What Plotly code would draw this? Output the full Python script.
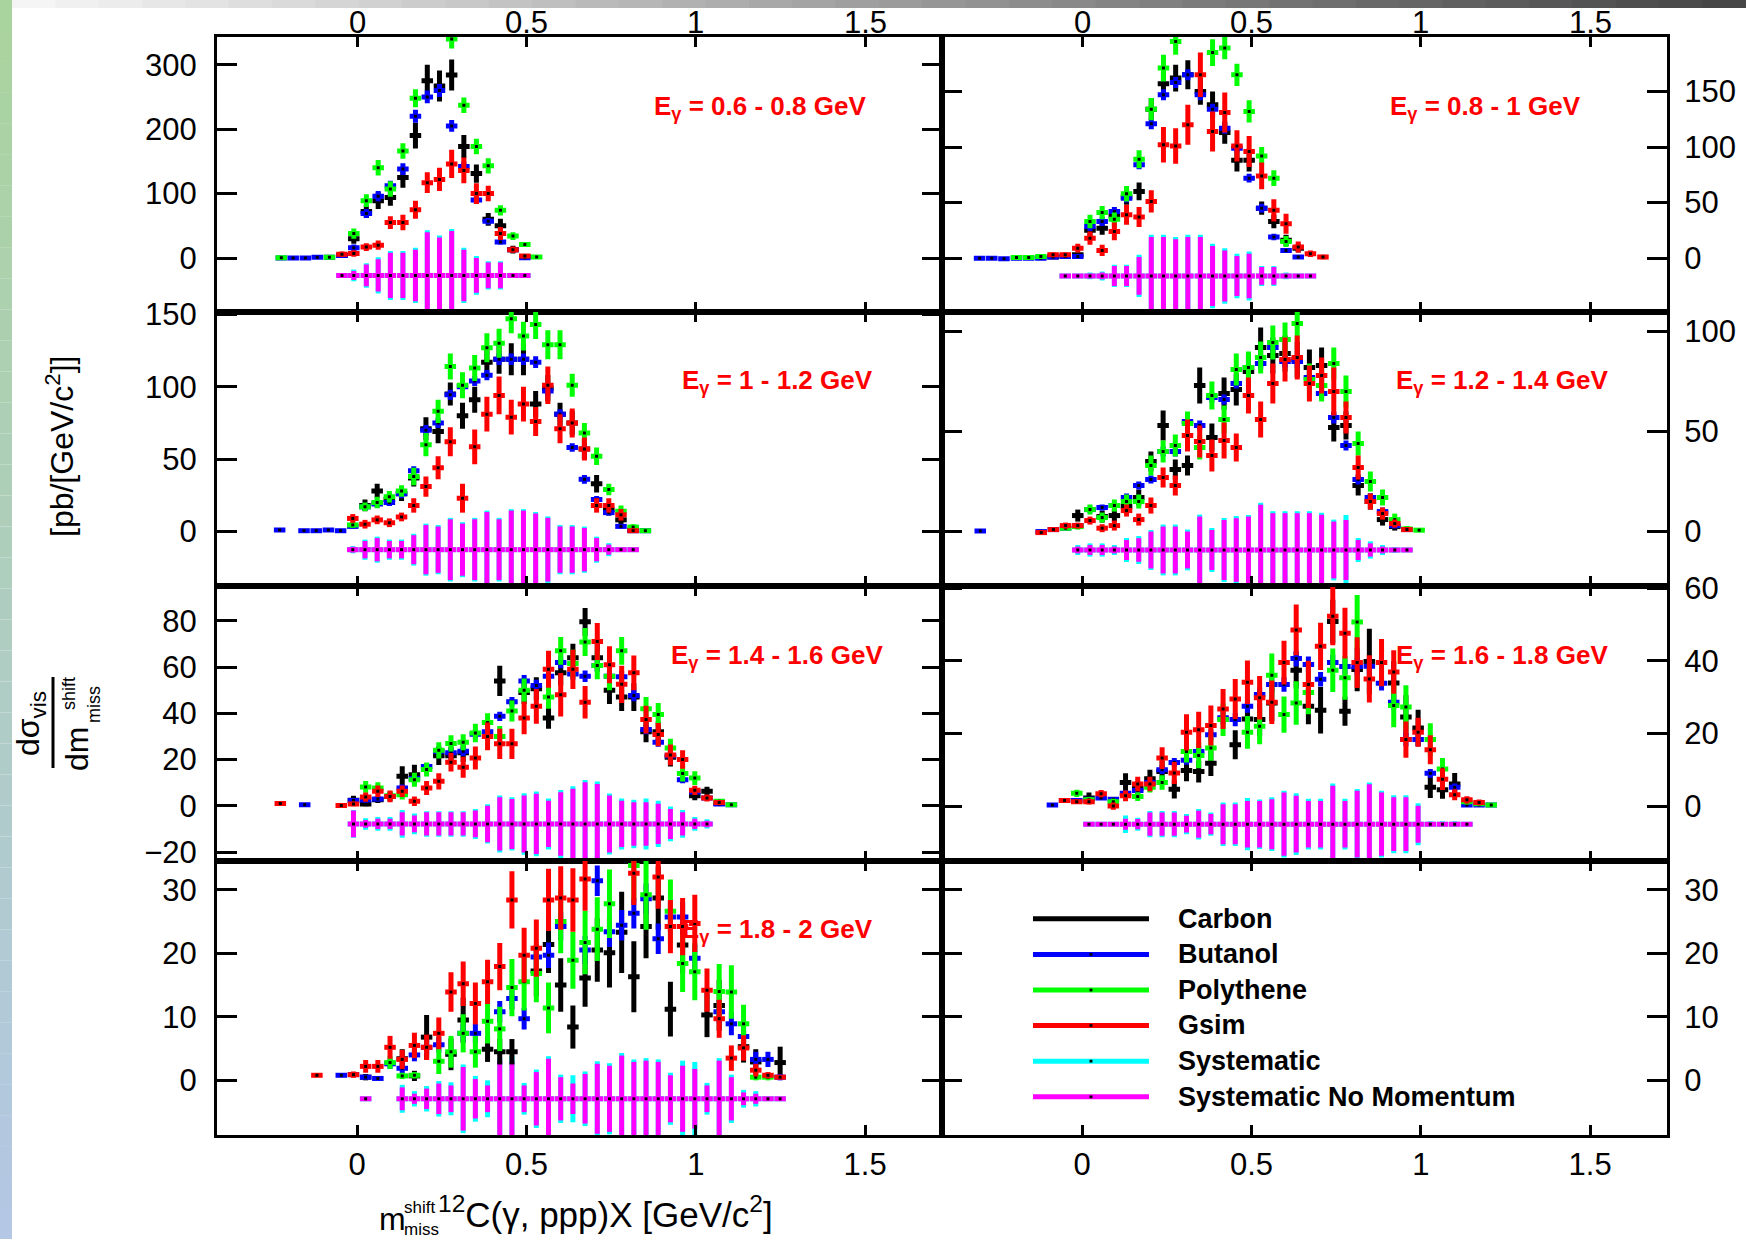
import sys
import plotly.graph_objects as go
from plotly.subplots import make_subplots

# ---------------------------------------------------------------- data
BIN_HALF = 0.017
N = None

# Panel 1 : E_gamma = 0.6 - 0.8 GeV
P1_X = [-0.224, -0.189, -0.153, -0.118, -0.082, -0.045, -0.010, 0.027, 0.062, 0.098, 0.135,
        0.172, 0.207, 0.243, 0.279, 0.315, 0.352, 0.387, 0.423, 0.460, 0.495, 0.530]
P1_CARBON = [N, N, N, N, N, 4, 30, 72, 89, 94, 125, 190, 275, 267, 284, 173, 131, 60, 50, 13, 2, N]
P1_CARBON_ERR = [N, N, N, N, N, 3, 8, 10, 13, 13, 16, 20, 25, 24, 24, 18, 14, 10, 11, 6, 3, N]
P1_BUTANOL = [0, 0, 0, 1, 1, 4, 16, 69, 96, 112, 138, 220, 250, 260, 205, 142, 90, 57, 25, 13, 0.5, N]
P1_BUTANOL_ERR = [2, 2, 2, 2, 2, 3, 5, 7, 8, 8, 9, 10, 10, 10, 9, 8, 6, 5, 4, 3, 2, N]
P1_POLY = [0.5, N, N, N, 1, N, 38, 89, 140, 107, 166, 248, N, N, 340, 237, 173, 143, 74, 34, 21, 1.5]
P1_POLY_ERR = [2, N, N, N, 2, N, 8, 10, 12, 12, 12, 14, N, N, 15, 12, 12, 12, 8, 6, 4, 2]
P1_GSIM = [N, N, N, N, N, 6, 7, 17, 20, 55, 55, 75, 117, 122, 146, 136, 100, 100, 38, 13, 3, N]
P1_GSIM_ERR = [N, N, N, N, N, 4, 5, 6, 7, 10, 12, 14, 16, 18, 22, 20, 16, 12, 10, 5, 3, N]
P1_SYS_CENTER = -27
P1_SNM = [N, N, N, N, N, 0, 7, 17, 25, 35, 35, 40, 67, 59, 69, 40, 27, 20, 20, 0, 0, N]
P1_SYS = [N, N, N, N, N, 0, 9, 19, 28, 38, 38, 43, 70, 62, 72, 43, 30, 22, 22, 0, 0, N]

# Panel 2 : E_gamma = 0.8 - 1 GeV
P2_X = [-0.303, -0.267, -0.231, -0.194, -0.158, -0.122, -0.086, -0.050, -0.013, 0.023, 0.059,
        0.095, 0.131, 0.168, 0.204, 0.240, 0.276, 0.312, 0.349, 0.385, 0.421, 0.457, 0.493,
        0.530, 0.566, 0.602, 0.638, 0.674, 0.711]
P2_CARBON = [N, N, N, N, N, N, 1, 2, 3, 25, 27, 38, 55, 60, 134, 157, 162, 165, 150, 138, 113,
             88, 88, 45, 33, 16, 9, N, N]
P2_CARBON_ERR = [N, N, N, N, N, N, 1.5, 2, 2, 6, 6, 6, 7, 8, 10, 11, 12, 13, 12, 12, 10, 10, 10,
                 6, 6, 5, 4, N, N]
P2_BUTANOL = [0, 0, -0.5, 0, 0, 0, 1, 1.5, 1.5, 28.5, 33, 42, 54, 84, 121, 147, 158, 165, 147,
              134, 117, 99, 72, 45, 19, 7, 1, N, N]
P2_BUTANOL_ERR = [1, 1, 1, 1, 1, 1, 1, 1, 1.5, 4, 4, 4, 4, 4, 5, 5, 5, 5, 5, 5, 5, 4, 4, 4, 3,
                  2, 1.5, N, N]
P2_POLY = [N, N, N, 0.5, 0.5, 1.5, N, N, N, 33, 41, 35, 58, 89, 134, 171, 195, N, N, 185, 189,
           165, 132, 92, 72, 15, N, N, N]
P2_POLY_ERR = [N, N, N, 1, 1, 1.5, N, N, N, 6, 6, 6, 7, 8, 10, 12, 12, N, N, 12, 10, 10, 10, 8,
               7, 5, N, N, N]
P2_GSIM = [N, N, N, N, N, N, 3, 3, 9, 18, 7, 24, 39, 37, 51, 102, 101, 120, 165, 114, 131, 101,
           96, 74, 43, 31, 10, 4, 1]
P2_GSIM_ERR = [N, N, N, N, N, N, 2, 2, 4, 6, 5, 8, 9, 9, 10, 16, 16, 18, 20, 18, 18, 14, 14, 12,
               10, 9, 5, 3, 2]
P2_SYS_CENTER = -16
P2_SNM = [N, N, N, N, N, N, N, 0, 0, 2, 3, 9, 9, 17, 35, 35, 33, 35, 35, 27, 23, 18, 20, 8, 8,
          2, 0, 0, N]
P2_SYS = [N, N, N, N, N, N, N, 0, 0, 3, 4, 10, 10, 19, 37, 37, 35, 37, 37, 29, 25, 20, 22, 9, 9,
          3, 0, 0, N]

# Panel 3 : E_gamma = 1 - 1.2 GeV
P3_X = [-0.229, -0.193, -0.157, -0.121, -0.085, -0.049, -0.013, 0.023, 0.059, 0.095, 0.131,
        0.167, 0.203, 0.239, 0.275, 0.311, 0.347, 0.383, 0.419, 0.455, 0.491, 0.527, 0.563,
        0.599, 0.635, 0.671, 0.707, 0.743, 0.779, 0.815, 0.851]
P3_CARBON = [N, N, N, N, N, N, N, 18, 28, 22, 26, 37, 71, 69, 95, 80, 91, 117, 119, 119, 119,
             88, 99, 81, 75, 57, 33, 15, 8, 1, N]
P3_CARBON_ERR = [N, N, N, N, N, N, N, 4, 5, 4, 5, 6, 8, 8, 8, 9, 9, 10, 10, 11, 11, 9, 9, 8, 8,
                 7, 6, 4, 3, 1.5, N]
P3_BUTANOL = [1, N, 0.5, 0.5, 1, 0.5, 3.5, 17, 19, 20, 26, 42, 70, 75, 94.5, 100, 104, 108, 119,
              119, 119, 117, 97, 81, 58, 36, 22, 13, 3.5, 0.5, 0.5]
P3_BUTANOL_ERR = [1, N, 1, 1, 1, 1, 1.5, 2.5, 2.5, 2.5, 3, 3, 3.5, 3.5, 3.5, 3.5, 3.5, 3.5, 4, 4,
                  4, 4, 3.5, 3.5, 3, 3, 2.5, 2, 1.5, 1, 1]
P3_POLY = [N, N, N, N, N, N, 4.5, 17, 20, 24, 28, 38, 60, 83, 114, 101, 113, 127, 130, 147, 135,
           143, 129, 129, 101, 68, 52, 29, 14, 3, 0.5]
P3_POLY_ERR = [N, N, N, N, N, N, 2, 3, 4, 4, 4, 6, 8, 8, 9, 9, 9, 10, 10, 10, 10, 10, 10, 10, 8,
               7, 6, 4, 4, 2, 1]
P3_GSIM = [N, N, N, N, N, N, 9, 5, 8, 6, 10, 18, 31, 44, 62, 23, 58.5, 81, 94, 79, 88, 76, 101,
           71, 75, 57, 18, 18, 11.5, 0.5, N]
P3_GSIM_ERR = [N, N, N, N, N, N, 3, 3, 3, 3, 3, 5, 7, 8, 10, 10, 12, 12, 13, 12, 12, 10, 13, 10,
               10, 8, 5, 5, 4, 1, N]
P3_SYS_CENTER = -12.6
P3_SNM = [N, N, N, N, N, N, 2, 6, 8, 6, 6, 10, 17, 16, 21, 18, 21, 26, 21, 27, 27, 25, 22, 16, 16,
          15, 8, 3.5, 1, 1, N]
P3_SYS = [N, N, N, N, N, N, 2.5, 7, 9, 7, 7, 11, 18, 17, 22, 19, 22, 27, 22, 28, 28, 26, 23, 17,
          17, 16, 9, 4.5, 1.5, 1.5, N]

# Panel 4 : E_gamma = 1.2 - 1.4 GeV
P4_X = [-0.301, -0.265, -0.229, -0.193, -0.157, -0.121, -0.085, -0.049, -0.013, 0.023, 0.059,
        0.095, 0.131, 0.167, 0.203, 0.239, 0.275, 0.311, 0.347, 0.383, 0.419, 0.455, 0.491,
        0.527, 0.563, 0.599, 0.635, 0.671, 0.707, 0.743, 0.779, 0.815, 0.851, 0.887, 0.923,
        0.959, 0.995]
P4_CARBON = [N, N, N, N, N, N, N, N, 8, N, 7.5, 8, 12.5, 17, 35, 53, 31, 33, 73, 47, 69, 71, 80,
             92, 88, 89, 86, 82, 83, 52, 53, 23, 15, 6, 2.5, N, N]
P4_CARBON_ERR = [N, N, N, N, N, N, N, N, 3, N, 3, 3, 3.5, 4, 5, 7.5, 5, 5, 9, 7, 8, 8, 9, 10, 9,
                 9, 9, 9, 9, 7, 7, 5, 4, 3, 2, N, N]
P4_BUTANOL = [0.3, N, N, N, N, 0, 1, 1.7, 3, 11, 12, 13, 17, 23, 26, 40, 40, 55, 53, 67, 66, 74,
              82, 84, 92, 85, 85, 77, 69, 57, 43, 26, 17, 10, 3, 1, N]
P4_BUTANOL_ERR = [1, N, N, N, N, 1, 1, 1, 1, 1.5, 1.5, 1.5, 2, 2, 2, 2.5, 2.5, 2.5, 2.5, 2.5,
                  2.5, 2.5, 2.5, 3, 3, 3, 3, 3, 3, 3, 2.5, 2.5, 2, 2, 1.5, 1, N]
P4_POLY = [N, N, N, N, N, N, N, 1.7, 2.5, 11, 7, 13, 15, 15, 33, 40, 43, 54, 42, 68, 56, 81, 82,
           87, 94.5, 96, 104, 76, 73, 84, 70, 44, 25, 17, 6, 1.3, 0.7]
P4_POLY_ERR = [N, N, N, N, N, N, N, 1, 1.5, 2.5, 2.5, 3, 3.5, 3.5, 5, 5.5, 5.5, 6, 6, 7, 7, 8, 8,
               8, 8.5, 8.5, 8.5, 8, 8, 8, 8, 6, 5, 4, 3, 1.5, 1]
P4_GSIM = [N, N, N, N, N, -0.5, 1, 3, 3, 5.5, 1.7, 3, 10.5, 6, 13, 27, 23, 48, 45, 38, 45.5, 42,
           68, 56, 74, 86, 87, 74, 78, 70, 57, 32, 15, 9, 4, 1, N]
P4_GSIM_ERR = [N, N, N, N, N, 1, 1, 1.5, 1.5, 2, 2, 2.5, 3, 3, 4, 5, 5, 8, 8, 8, 9, 7, 9, 9, 10,
               11, 11, 9, 9, 12, 8, 6, 4, 3, 2, 1, N]
P4_SYS_CENTER = -9.2
P4_SNM = [N, N, N, N, N, N, N, N, 1.7, 2.5, 2.5, 1.7, 5, 5.9, 9.2, 11.7, 11.7, 9.2, 16.7, 10, 15,
          15.9, 16.7, 22.6, 18.4, 18.4, 18.4, 18.4, 17.6, 14.2, 15, 5, 3.3, 1.7, 0.8, 0.5, N]
P4_SYS = [N, N, N, N, N, N, N, N, 2.5, 3.3, 3.3, 2.5, 6, 7, 10, 12.7, 12.7, 10.2, 17.7, 11, 16,
          17, 17.5, 23.6, 19.4, 19.4, 19.4, 19.4, 18.6, 15.2, 17.5, 6, 4.3, 2.5, 1.5, 1, N]

# Panel 5 : E_gamma = 1.4 - 1.6 GeV
P5_X = [-0.227, -0.191, -0.155, -0.119, -0.083, -0.047, -0.011, 0.025, 0.061, 0.097, 0.133,
        0.169, 0.205, 0.241, 0.277, 0.313, 0.349, 0.385, 0.421, 0.457, 0.493, 0.529, 0.565,
        0.601, 0.637, 0.673, 0.709, 0.745, 0.781, 0.817, 0.853, 0.889, 0.925, 0.961, 0.997,
        1.033, 1.069, 1.105]
P5_CARBON = [N, N, N, N, N, N, 2.4, 0.8, 2.7, 4, 12.8, 13.5, N, 21.7, 21.7, 23, N, N, 54, N, 49,
             50.6, 38, 57.5, 64, 79.5, 64, 50, 47, 47, 32, 32, 21, N, 4.4, 6.3, 1, N]
P5_CARBON_ERR = [N, N, N, N, N, N, 2, 1, 1.5, 2, 4.3, 4.3, N, 4, 4, 4, N, N, 6.5, N, 5, 5, 4.7,
                 5.5, 6, 6, 6, 6, 6, 6, 4.5, 4.5, 4, N, 2, 2, 1, N]
P5_BUTANOL = [N, N, 0.5, N, N, N, 2.3, 2.5, 3, 4, 7.7, 11.8, 17, 23.6, 23, 23.6, 31, 32, 38.7,
              45, 54, 52, 56, 62, 57, 56, 60.7, 56, 55.8, 47.7, 33, 27.5, 21.7, 11.3, 6, 3.4,
              0.8, 0.5]
P5_BUTANOL_ERR = [N, N, 0.5, N, N, N, 1, 1, 1, 1, 1.5, 1.5, 1.5, 2, 2, 2, 2, 2, 2, 2, 2.5, 2.5,
                  2.5, 2.5, 2.5, 2.5, 2.5, 2.5, 2.5, 2.5, 2, 2, 2, 1.5, 1, 1, 0.5, 0.5]
P5_POLY = [N, N, N, N, N, N, N, 8.2, 7.7, 4.4, 4.8, 11.3, 15.7, 24, 27, 27.5, 31.5, 36, 30, 41,
           50, N, 47, 67, 61.5, 70.8, 60.7, 56, 67, N, 42, 39.5, 25, 14, 12, N, 2, 0.5]
P5_POLY_ERR = [N, N, N, N, N, N, N, 2.5, 2.5, 2, 2, 3, 3, 3.5, 3.5, 3.5, 4, 4, 4.5, 4.5, 5, N, 5,
               6, 6, 6, 6, 6, 6, N, 5, 5, 4, 3.5, 3, N, 1, 0.5]
P5_GSIM = [1, N, N, N, N, 0.2, 0.8, 3.8, 6.3, 4.1, 6.3, 2, 7.7, 10.6, 18.8, 16.7, 20.7, 30,
           26.8, 26.8, 38, 43, 59, 48, 59, 44.8, 71, 61, 52.5, 57.5, 37.3, 30.8, 22, 20, 6.7,
           3.4, 1.5, N]
P5_GSIM_ERR = [0.5, N, N, N, N, 0.5, 1, 2, 2.5, 2.5, 2.5, 2, 3, 3.5, 4, 4.5, 5, 6, 6.5, 6.5, 7,
               7.5, 8, 9.4, 8.5, 7, 8, 8, 8, 7.5, 6, 5, 4.5, 4, 2, 1.5, 1, N]
P5_SYS_CENTER = -7.8
P5_SNM = [N, N, N, N, N, N, 5.8, 1.7, 2.2, 2.2, 5, 3.6, 5, 5, 5, 5, 5.8, 7.9, 11.5, 10.8, 12.3,
          13, 10, 13.7, 15.2, 18, 17.3, 12.3, 10, 9.4, 9.4, 8.7, 6.5, 5, 2.2, 1.4, N, N]
P5_SYS = [N, N, N, N, N, N, 6, 2.5, 3, 3, 6, 4.5, 5.5, 5.5, 5.5, 5.5, 6.5, 8.5, 12.3, 11.5, 13.3,
          14, 11, 14.7, 16.3, 19, 18.3, 13.2, 11, 10.5, 11, 10, 7.5, 6, 3, 2, N, N]

# Panel 6 : E_gamma = 1.6 - 1.8 GeV
P6_X = [-0.088, -0.052, -0.016, 0.020, 0.056, 0.092, 0.128, 0.164, 0.200, 0.236, 0.272, 0.308,
        0.344, 0.380, 0.416, 0.452, 0.488, 0.524, 0.560, 0.596, 0.632, 0.668, 0.704, 0.740,
        0.776, 0.812, 0.848, 0.884, 0.920, 0.956, 0.992, 1.028, 1.064, 1.100, 1.136, 1.172,
        1.208]
P6_CARBON = [N, N, N, 2.2, N, N, 6.5, 4.9, 7.5, 9.5, 4.6, 9.8, 9.5, 11.8, N, 16.9, 24, 23.8,
             28.4, N, 37.4, 27.5, 26.4, 50.8, 26.1, 37.6, 39.8, N, 33.9, 24.5, 21.5, 5.2, 4.5,
             6.1, N, N, N]
P6_CARBON_ERR = [N, N, N, 1.5, N, N, 2.5, 2, 2.5, 3, 2.5, 3, 3, 3.5, N, 4, 4.5, 4.5, 5, N, 5, 5,
                 6.4, 6, 4, 6, 9, N, 6, 6, 5, 3, 2.5, 3, N, N, N]
P6_BUTANOL = [0.3, 1.5, 1.5, 1.9, 2.2, 1.9, 3.5, 4.3, 6.5, 10, 12, 12.6, 15, 19.6, 24.3, 23.8,
              27.5, 30.7, 33.5, 33.5, 40.6, 39, 34.9, 39.5, 38.4, 38.4, 38.5, 33.8, 28.6, 18.3,
              18.3, 9, N, 5.2, 0.3, 0.3, 0.3]
P6_BUTANOL_ERR = [0.3, 0.5, 0.5, 0.5, 0.5, 0.5, 0.8, 0.8, 1, 1.2, 1.2, 1.2, 1.5, 1.5, 1.8, 1.8,
                  1.8, 2, 2, 2, 2.2, 2.2, 2, 2.2, 2.2, 2.2, 2.2, 2, 2, 1.8, 1.8, 1.2, N, 1, 0.3,
                  0.3, 0.3]
P6_POLY = [N, N, 3.5, 1.7, N, 1.2, N, 2.6, 5.2, 6.5, N, 15, 13.9, 16, 23.8, N, 20.3, 22, 36, 25.2,
           28.4, 31.3, N, 37.4, 35.3, 50.7, N, N, 27.7, 27.3, N, 18.3, 10.2, N, 1.2, 0.6, 0.3]
P6_POLY_ERR = [N, N, 1, 0.8, N, 0.8, N, 1.2, 1.5, 2, N, 3, 3.5, 3.5, 4.5, N, 4.5, 5, 6, 5, 6, 6,
               N, 6, 6, 7.4, N, N, 6, 6, N, 4.5, 3, N, 0.8, 0.5, 0.3]
P6_GSIM = [N, 1.5, 1.2, 1.2, 3.4, 0, 2.8, 6.1, 6.1, 13.2, 9.1, 20.3, 21, 22.2, 26.7, 29.5, 34.1,
           29.8, 28.6, 39.5, 48.5, 33.5, 44, 52.3, 47.6, 39.5, 35, 39.5, 36.9, 18.3, 20.3, 15.5,
           7.4, 3.1, 1.7, 1, N]
P6_GSIM_ERR = [N, 0.5, 0.5, 0.8, 1, 1, 1.5, 2, 2, 3, 3, 5, 5, 5.5, 5.5, 5.5, 6, 6, 6, 6, 7, 6.5,
               6.5, 8, 7, 7, 6.5, 6.5, 6, 5, 4, 4, 3, 1.5, 1, 0.8, N]
P6_SYS_CENTER = -5
P6_SNM = [N, N, N, 0, 0, 0, 1.5, 1.4, 3.2, 3.2, 3.2, 2.3, 3.7, 2.8, 5.5, 5.5, 6.4, 6.4, 6.9, 8.7,
          7.8, 6.4, 6.4, 10.6, 6.4, 9.2, 11, 8.7, 7.4, 7.4, 5.1, 0.5, 0.5, 0.5, 0, N, N]
P6_SYS = [N, N, N, 0, 0, 0, 2.4, 1.8, 3.6, 3.6, 3.6, 2.8, 4.2, 3.2, 6, 6, 7.2, 6.8, 7.4, 9.2, 8.5,
          7, 7, 11.2, 7, 9.7, 11.5, 9.2, 8, 8, 5.8, 0.8, 0.8, 0.8, 0, N, N]

# Panel 7 : E_gamma = 1.8 - 2 GeV
P7_X = [-0.119, -0.083, -0.047, -0.011, 0.025, 0.061, 0.097, 0.133, 0.169, 0.205, 0.241, 0.277,
        0.313, 0.349, 0.385, 0.421, 0.457, 0.493, 0.529, 0.565, 0.601, 0.637, 0.673, 0.709,
        0.745, 0.781, 0.817, 0.853, 0.889, 0.925, 0.961, 0.997, 1.033, 1.069, 1.105, 1.141,
        1.177, 1.213, 1.249]
P7_CARBON = [N, N, N, N, 0.5, N, N, 3.4, 0.7, 6.8, N, 4.1, 9.5, N, 4.9, 4.5, 4.5, N, 17.2, 21.4,
             15, 8.4, 16.1, 20.5, 20.1, 23.3, 16.3, 24.2, 28.7, 11.2, 21.3, N, 10.3, 11.8, N, 5.3,
             2.9, N, 2.8]
P7_CARBON_ERR = [N, N, N, N, 0.5, N, N, 1.5, 0.8, 3.5, N, 2.5, 3.5, N, 2, 2, 2, N, 4, 4.5, 4.2,
                 3.4, 4.5, 5, 5.5, 6.4, 5.6, 5, 5, 4.3, 4.5, N, 3.5, 4, N, 2.5, 2, N, 2.5]
P7_BUTANOL = [N, N, 0.8, 0.9, 0.5, 0.3, 2.6, 1.9, 4, 5.2, 5.6, N, 7.4, 7.4, N, 10.8, 12.9, 9.7,
              19.4, 19.7, 24.2, N, 20.5, 31.4, 23.4, 24.4, 26.3, 28.6, 22.3, 25.7, 25.7, 19.2, N,
              10.8, 8.9, 6.9, 3.3, 3.3, 0.5]
P7_BUTANOL_ERR = [N, N, 0.3, 0.3, 0.3, 0.3, 0.8, 0.8, 1, 1.2, 1.2, N, 1.5, 1.5, N, 1.7, 1.7, 1.7,
                  2, 2, 2.2, N, 2.2, 2.4, 2.4, 2.4, 2.4, 2.4, 2.4, 2.4, 2.4, 2.2, N, 1.8, 1.8,
                  1.5, 1.2, 1.2, 0.5]
P7_POLY = [N, N, N, N, N, N, 2.8, 0.7, 0.8, N, 3, 4.5, 7.4, 4.5, 9.3, 8.1, 14.6, 15.5, 16.8,
           11.4, 25, 18.9, 21.7, 23.8, 27.8, N, 33.8, 29.2, N, 26.6, 18.4, 17.1, N, 14, 13.9, 8.9,
           0.5, 0.5, N]
P7_POLY_ERR = [N, N, N, N, N, N, 1, 0.5, 0.5, N, 2, 2.5, 3, 2.5, 3.5, 3.5, 4.5, 4.5, 4.5, 4, 5,
               4.5, 5, 5, 5.4, N, 5.5, 5.5, N, 5, 4.5, 4.5, N, 4.3, 4.2, 3, 0.5, 0.5, N]
P7_GSIM = [0.8, N, N, 0.9, 2.2, 2.2, 5.2, 3.3, 5.5, 5.2, 7.4, 13.9, 15.2, 12.1, 15.5, 17.9, 28.4,
           19.7, 20.8, 28.4, 28.7, 28.4, 31.7, N, N, N, 32.6, N, 32, 24.2, 24.2, 24.7, 14.2, 9.7,
           3.5, 5.1, 1.6, 0.8, 0.5]
P7_GSIM_ERR = [0.3, N, N, 0.5, 1, 1, 1.8, 1.5, 2, 2, 2.5, 3.1, 3.5, 3.3, 3.5, 3.7, 4.5, 4.3, 4.5,
               4.9, 5, 5, 5, N, N, N, 5, N, 5, 4.2, 4.5, 4.5, 3.4, 3, 2, 2, 1, 0.5, 0.3]
P7_SYS_CENTER = -2.9
P7_SNM = [N, N, N, N, 0, N, N, 1.8, 0.8, 1.6, 2.4, 2.1, 5, 3.1, 2.1, 6, 5.8, 2.1, 4.2, 6.3, 3.4,
          2.4, 3.9, 5.5, 5.2, 6.8, 5.8, 6, 5.8, 3.7, 5.2, 4.7, 2.1, 6, 3.4, 1, 0.8, 0, 0]
P7_SYS = [N, N, N, N, 0, N, N, 2.2, 1.2, 2, 2.8, 2.6, 5.4, 3.6, 2.9, 6.4, 6.8, 2.5, 4.6, 6.7, 3.8,
          3.7, 4.3, 5.9, 5.6, 7.2, 6.2, 6.4, 6.2, 4.1, 6, 5.8, 2.5, 6.4, 3.8, 1.4, 1.2, 0, 0]

PANEL_LABELS = ["0.6 - 0.8", "0.8 - 1", "1 - 1.2", "1.2 - 1.4", "1.4 - 1.6", "1.6 - 1.8", "1.8 - 2"]
SERIES_NAMES = ["Carbon", "Butanol", "Polythene", "Gsim", "Systematic", "Systematic No Momentum"]
X_TICKS = [0, 0.5, 1, 1.5]
X_TICK_TEXT = ["0", "0.5", "1", "1.5"]
Y_TICKS = [[0, 100, 200, 300], [0, 50, 100, 150], [0, 50, 100, 150], [0, 50, 100],
           [-20, 0, 20, 40, 60, 80], [0, 20, 40, 60], [0, 10, 20, 30], [0, 10, 20, 30]]

# ---------------------------------------------------------------- styles
COLORS = {"Carbon": "#000000", "Butanol": "#0000ff", "Polythene": "#00ff00", "Gsim": "#ff0000",
          "Systematic": "#00ffff", "Systematic No Momentum": "#ff00ff"}
FONT = "Liberation Sans, Arial, Helvetica, sans-serif"
Y_RANGES = [[-83, 343], [-48, 199], [-37.7, 152], [-27.2, 110], [-23.6, 95], [-15, 60.6],
            [-8.6, 34.6], [-8.6, 34.6]]
X_RANGE = [-0.414, 1.727]
LABEL_X = [1.19, 1.19, 1.24, 1.24, 1.24, 1.24, 1.24]

W, H = 1746, 1239
ML, MR, MT, MB = 217, 79, 37, 104
PW, PH = W - ML - MR, H - MT - MB


def pxx(px):
    return (px - ML) / PW


def pxy(py):
    return (H - MB - py) / PH


panels = [
    (P1_X, [P1_CARBON, P1_BUTANOL, P1_POLY, P1_GSIM], [P1_CARBON_ERR, P1_BUTANOL_ERR, P1_POLY_ERR, P1_GSIM_ERR], P1_SYS_CENTER, P1_SYS, P1_SNM),
    (P2_X, [P2_CARBON, P2_BUTANOL, P2_POLY, P2_GSIM], [P2_CARBON_ERR, P2_BUTANOL_ERR, P2_POLY_ERR, P2_GSIM_ERR], P2_SYS_CENTER, P2_SYS, P2_SNM),
    (P3_X, [P3_CARBON, P3_BUTANOL, P3_POLY, P3_GSIM], [P3_CARBON_ERR, P3_BUTANOL_ERR, P3_POLY_ERR, P3_GSIM_ERR], P3_SYS_CENTER, P3_SYS, P3_SNM),
    (P4_X, [P4_CARBON, P4_BUTANOL, P4_POLY, P4_GSIM], [P4_CARBON_ERR, P4_BUTANOL_ERR, P4_POLY_ERR, P4_GSIM_ERR], P4_SYS_CENTER, P4_SYS, P4_SNM),
    (P5_X, [P5_CARBON, P5_BUTANOL, P5_POLY, P5_GSIM], [P5_CARBON_ERR, P5_BUTANOL_ERR, P5_POLY_ERR, P5_GSIM_ERR], P5_SYS_CENTER, P5_SYS, P5_SNM),
    (P6_X, [P6_CARBON, P6_BUTANOL, P6_POLY, P6_GSIM], [P6_CARBON_ERR, P6_BUTANOL_ERR, P6_POLY_ERR, P6_GSIM_ERR], P6_SYS_CENTER, P6_SYS, P6_SNM),
    (P7_X, [P7_CARBON, P7_BUTANOL, P7_POLY, P7_GSIM], [P7_CARBON_ERR, P7_BUTANOL_ERR, P7_POLY_ERR, P7_GSIM_ERR], P7_SYS_CENTER, P7_SYS, P7_SNM),
]

fig = make_subplots(rows=4, cols=2, horizontal_spacing=0, vertical_spacing=0)


def err_trace(x, y, err, color, row, col, name):
    fig.add_trace(go.Scatter(
        x=x, y=y, mode="markers", name=name, showlegend=False, hoverinfo="skip",
        marker=dict(color="black", size=3, symbol="square", line=dict(width=0)),
        error_y=dict(type="data", array=err, visible=True, color=color, thickness=5, width=0),
        error_x=dict(type="constant", value=BIN_HALF, visible=True, color=color, thickness=5, width=0),
    ), row=row, col=col)


for idx, (xs, vals, errs, center, syst, snm) in enumerate(panels):
    row, col = idx // 2 + 1, idx % 2 + 1
    for arr in vals + errs + [syst, snm]:
        if len(arr) != len(xs):
            print(f"length mismatch in panel {idx + 1}: {len(arr)} vs {len(xs)}", file=sys.stderr)
    sy = [center if e is not None else None for e in syst]
    my = [center if e is not None else None for e in snm]
    err_trace(xs, sy, syst, COLORS["Systematic"], row, col, "Systematic")
    err_trace(xs, my, snm, COLORS["Systematic No Momentum"], row, col, "Systematic No Momentum")
    for name, v, e in zip(SERIES_NAMES[:4], vals, errs):
        err_trace(xs, v, e, COLORS[name], row, col, name)

# empty 8th panel (legend panel)
fig.add_trace(go.Scatter(x=[None], y=[None], mode="markers", showlegend=False, hoverinfo="skip"),
              row=4, col=2)

TICKFONT = dict(family=FONT, size=31, color="black")
for n in range(1, 9):
    row, col = (n - 1) // 2 + 1, (n - 1) % 2 + 1
    xk = "xaxis" if n == 1 else f"xaxis{n}"
    yk = "yaxis" if n == 1 else f"yaxis{n}"
    xa = dict(range=X_RANGE, tickvals=X_TICKS, ticktext=X_TICK_TEXT, ticks="inside", ticklen=10,
              tickwidth=2.5, tickcolor="black", showline=True, linecolor="black", linewidth=3,
              mirror="ticks", showgrid=False, zeroline=False, tickfont=TICKFONT, automargin=False)
    if row == 4:
        xa.update(side="bottom", showticklabels=True, ticklabelstandoff=0)
    else:
        xa.update(showticklabels=False)
    ya = dict(range=Y_RANGES[n - 1], tickvals=Y_TICKS[n - 1], ticks="inside", ticklen=20,
              tickwidth=2.5, tickcolor="black", showline=True, linecolor="black", linewidth=3,
              mirror="ticks", showgrid=False, zeroline=False, tickfont=TICKFONT, automargin=False,
              side="left" if col == 1 else "right", ticklabelstandoff=11 if col == 1 else 8)
    fig.layout[xk].update(xa)
    fig.layout[yk].update(ya)

annotations = []
# top-row x tick labels (drawn above the upper panels)
for n in (1, 2):
    for tv, tt in zip(X_TICKS, X_TICK_TEXT):
        annotations.append(dict(xref="x" if n == 1 else f"x{n}", yref="paper", x=tv, y=pxy(22),
                                xanchor="center", yanchor="middle", showarrow=False, text=tt,
                                font=TICKFONT))

for i, lab in enumerate(PANEL_LABELS):
    n = i + 1
    annotations.append(dict(
        xref="x" if n == 1 else f"x{n}", yref="y domain" if n == 1 else f"y{n} domain",
        x=LABEL_X[i], y=0.744, xanchor="center", yanchor="middle", showarrow=False,
        text=f"<b>E<sub>γ</sub> = {lab} GeV</b>",
        font=dict(family=FONT, size=26, color="#ff0000")))

# legend drawn inside the 8th panel
shapes = []
LEG_Y = [0.788, 0.658, 0.528, 0.399, 0.269, 0.139]
for name, yy in zip(SERIES_NAMES, LEG_Y):
    shapes.append(dict(type="line", xref="x8 domain", yref="y8 domain", x0=0.1255, x1=0.2855,
                       y0=yy, y1=yy, line=dict(color=COLORS[name], width=5)))
    shapes.append(dict(type="rect", xref="x8 domain", yref="y8 domain", x0=0.2035, x1=0.2075,
                       y0=yy - 0.005, y1=yy + 0.005, line=dict(width=0), fillcolor="black"))
    annotations.append(dict(xref="x8 domain", yref="y8 domain", x=0.3228, y=yy, xanchor="left",
                            yanchor="middle", showarrow=False, text=f"<b>{name}</b>",
                            font=dict(family=FONT, size=27, color="black")))

# axis titles
TF = dict(family=FONT, size=32, color="black")
TFX = dict(family=FONT, size=35, color="black")
SF = dict(family=FONT, size=17, color="black")
SFY = dict(family=FONT, size=18, color="black")
annotations += [
    dict(xref="paper", yref="paper", x=pxx(392), y=pxy(1219), text="m", showarrow=False,
         xanchor="center", yanchor="middle", font=TF),
    dict(xref="paper", yref="paper", x=pxx(402), y=pxy(1207), text="shift", showarrow=False,
         xanchor="left", yanchor="middle", font=SF),
    dict(xref="paper", yref="paper", x=pxx(402), y=pxy(1229), text="miss", showarrow=False,
         xanchor="left", yanchor="middle", font=SF),
    dict(xref="paper", yref="paper", x=pxx(436), y=pxy(1212),
         text="<sup>12</sup>C(γ, ppp)X [GeV/c<sup>2</sup>]", showarrow=False,
         xanchor="left", yanchor="middle", font=TFX),
    dict(xref="paper", yref="paper", x=pxx(60), y=pxy(447), text="[pb/[GeV/c<sup>2</sup>]]",
         textangle=-90, showarrow=False, xanchor="center", yanchor="middle", font=TF),
    dict(xref="paper", yref="paper", x=pxx(31), y=pxy(724), text="dσ<sub>vis</sub>",
         textangle=-90, showarrow=False, xanchor="center", yanchor="middle", font=TF),
    dict(xref="paper", yref="paper", x=pxx(77), y=pxy(749), text="dm",
         textangle=-90, showarrow=False, xanchor="center", yanchor="middle", font=TF),
    dict(xref="paper", yref="paper", x=pxx(69), y=pxy(694), text="shift",
         textangle=-90, showarrow=False, xanchor="center", yanchor="middle", font=SFY),
    dict(xref="paper", yref="paper", x=pxx(94), y=pxy(705), text="miss",
         textangle=-90, showarrow=False, xanchor="center", yanchor="middle", font=SFY),
]
shapes.append(dict(type="line", xref="paper", yref="paper", x0=pxx(53), x1=pxx(53),
                   y0=pxy(677), y1=pxy(768), line=dict(color="black", width=3)))

# slide decorations: gradient strips (left: green->blue, top: light->dark grey)
NSTEP = 40
for k in range(NSTEP):
    t = k / (NSTEP - 1)
    r = int(170 + (180 - 170) * t)
    g = int(212 + (199 - 212) * t)
    b = int(158 + (228 - 158) * t)
    shapes.append(dict(type="rect", xref="paper", yref="paper", x0=pxx(0), x1=pxx(12),
                       y0=pxy(H * k / NSTEP), y1=pxy(H * (k + 1) / NSTEP),
                       line=dict(width=0), fillcolor=f"rgb({r},{g},{b})", layer="below"))
    c = int(245 - (245 - 70) * t)
    shapes.append(dict(type="rect", xref="paper", yref="paper", x0=pxx(12 + (W - 12) * k / NSTEP),
                       x1=pxx(12 + (W - 12) * (k + 1) / NSTEP) + 0.0005, y0=pxy(0), y1=pxy(8),
                       line=dict(width=0), fillcolor=f"rgb({c},{c},{c})", layer="below"))

fig.update_layout(
    width=W, height=H, margin=dict(l=ML, r=MR, t=MT, b=MB, autoexpand=False),
    paper_bgcolor="white", plot_bgcolor="white", showlegend=False,
    annotations=annotations, shapes=shapes, hovermode=False,
    font=dict(family=FONT, color="black"),
)

fig.write_html("out.html", config={"displayModeBar": False})
